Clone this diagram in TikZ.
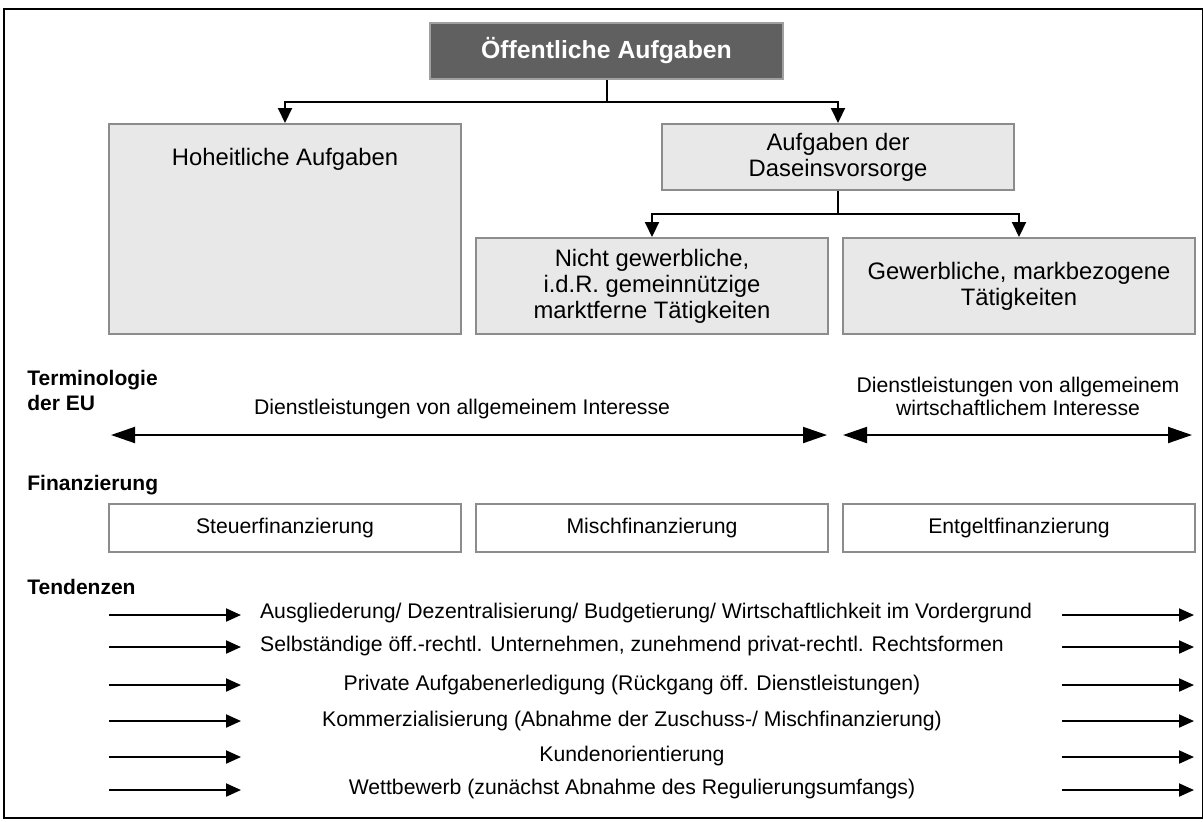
\documentclass[tikz,border=0pt]{standalone}
\usepackage{fontspec}
\setmainfont{Liberation Sans}
\usetikzlibrary{arrows.meta}
\definecolor{boxfill}{HTML}{E8E8E8}
\definecolor{boxline}{HTML}{8C8C8C}
\definecolor{topfill}{HTML}{606060}
\definecolor{topline}{HTML}{A0A0A0}
\begin{document}
\begin{tikzpicture}[x=0.5pt,y=-0.5pt,
  graybox/.style={draw=boxline, line width=1pt, fill=boxfill, inner sep=0pt, align=center,
    minimum width=176pt, font=\fontsize{11.9}{13}\selectfont},
  finbox/.style={draw=boxline, line width=1pt, fill=white, inner sep=0pt, align=center,
    minimum width=176pt, minimum height=24pt, font=\fontsize{10.6}{12}\selectfont},
  topbox/.style={draw=topline, line width=1pt, fill=topfill, text=white, inner sep=0pt,
    minimum width=176.5pt, minimum height=28pt, font=\bfseries\fontsize{12.4}{14}\selectfont},
  conn/.style={line width=1pt, -{Triangle[length=7.5pt,width=7pt]}},
  euarrow/.style={line width=1pt, {Triangle[length=12pt,width=8pt]}-{Triangle[length=12pt,width=8pt]}},
  tarrow/.style={line width=1pt, -{Triangle[length=7.5pt,width=6.5pt]}},
  label/.style={font=\bfseries\fontsize{10.5}{12.5}\selectfont, anchor=west, align=left, inner sep=0pt},
  smalltext/.style={font=\fontsize{10.6}{11.5}\selectfont, align=center, inner sep=0pt}
]
\useasboundingbox (0,0) rectangle (1203,821);
\draw[line width=1pt] (4,9) rectangle (1203,818);

% top
\node[topbox] (top) at (606.5,51) {Öffentliche Aufgaben};
\node[graybox, minimum height=105pt] (hoh) at (285,229) {};
\node[font=\fontsize{11.9}{13}\selectfont, inner sep=0pt] (hohtext) at (285,159) {Hoheitliche Aufgaben};
\node[graybox, minimum height=33pt] (das) at (838,157) {Aufgaben der\\Daseinsvorsorge};
\node[graybox, minimum height=48pt] (nicht) at (652,286) {Nicht gewerbliche,\\i.d.R. gemeinnützige\\marktferne Tätigkeiten};
\node[graybox, minimum height=48pt] (gew) at (1019,286) {Gewerbliche, markbezogene\\Tätigkeiten};

\draw[conn] (top.south) -- (606.5,102) -| (hoh.north);
\draw[conn] (top.south) -- (606.5,102) -| (das.north);
\draw[conn] (das.south) -- (838,214) -| (nicht.north);
\draw[conn] (das.south) -- (838,214) -| (gew.north);

% terminology
\node[label] (term) at (27,390.5) {Terminologie\\der EU};
\node[smalltext] (dai) at (462,409) {Dienstleistungen von allgemeinem Interesse};
\node[smalltext] (dawi) at (1018,396.5) {Dienstleistungen von allgemeinem\\wirtschaftlichem Interesse};
\coordinate (e1l) at (111,435);
\coordinate (e1r) at (827,435);
\coordinate (e2l) at (843,435);
\coordinate (e2r) at (1192,435);
\draw[euarrow] (e1l) -- (e1r);
\draw[euarrow] (e2l) -- (e2r);

% financing
\node[label] (fin) at (27,485) {Finanzierung};
\node[finbox] (f1) at (285,528) {Steuerfinanzierung};
\node[finbox] (f2) at (652,528) {Mischfinanzierung};
\node[finbox] (f3) at (1019,528) {Entgeltfinanzierung};

% tendencies
\node[label] (tend) at (27,587) {Tendenzen};
\node[smalltext] (t1) at (646,613) {Ausgliederung/ Dezentralisierung/ Budgetierung/ Wirtschaftlichkeit im Vordergrund};
\node[smalltext] (t2) at (632,646) {Selbständige öff.-rechtl. Unternehmen, zunehmend privat-rechtl. Rechtsformen};
\node[smalltext] (t3) at (632,685) {Private Aufgabenerledigung (Rückgang öff. Dienstleistungen)};
\node[smalltext] (t4) at (632,721) {Kommerzialisierung (Abnahme der Zuschuss-/ Mischfinanzierung)};
\node[smalltext] (t5) at (632,756) {Kundenorientierung};
\node[smalltext] (t6) at (632,789) {Wettbewerb (zunächst Abnahme des Regulierungsumfangs)};
\foreach \i/\yy in {1/615,2/647,3/685,4/721,5/757,6/790}{
  \coordinate (la\i) at (109,\yy);
  \coordinate (lb\i) at (241,\yy);
  \coordinate (ra\i) at (1062,\yy);
  \coordinate (rb\i) at (1194,\yy);
  \draw[tarrow] (la\i) -- (lb\i);
  \draw[tarrow] (ra\i) -- (rb\i);
}
\end{tikzpicture}
\end{document}
